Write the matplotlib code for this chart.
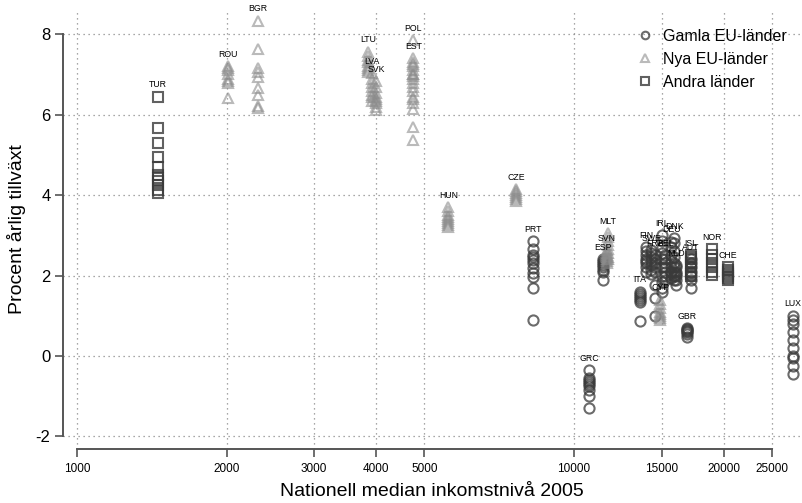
import matplotlib
matplotlib.use("Agg")
import matplotlib.pyplot as plt
import numpy as np

plt.rcParams['font.family'] = ['Liberation Sans', 'DejaVu Sans']

# Gamla EU-länder
old_codes = ['PRT', 'GRC', 'ESP', 'ITA', 'FIN', 'SWE', 'FRA', 'IRL', 'BEL',
             'DEU', 'DNK', 'NLD', 'AUT', 'GBR', 'LUX']
old_income = [8260, 10730, 11450, 13580, 13950, 14300, 14550, 15030, 15250,
              15700, 15900, 16050, 17190, 16880, 27550]
old_growth = [
    [2.86, 2.65, 2.51, 2.46, 2.39, 2.31, 2.18, 2.06, 1.97, 1.68, 0.90],
    [-0.35, -0.55, -0.6, -0.65, -0.7, -0.75, -0.85, -1.0, -1.3],
    [2.4, 2.35, 2.3, 2.25, 2.2, 2.15, 2.1, 1.89],
    [1.6, 1.55, 1.5, 1.45, 1.4, 1.35, 0.87],
    [2.7, 2.6, 2.5, 2.4, 2.35, 2.3, 2.2, 2.1],
    [2.63, 2.55, 2.45, 2.35, 2.25, 2.15, 2.05],
    [2.5, 2.4, 2.3, 2.2, 2.1, 1.77, 1.45, 1.0],
    [3.0, 2.85, 2.7, 2.55, 2.4, 2.2, 2.0, 1.85, 1.7, 1.6],
    [2.5, 2.4, 2.3, 2.2, 2.1, 2.0, 1.9],
    [2.84, 2.7, 2.5, 2.35, 2.2, 2.1, 2.05, 1.95],
    [2.93, 2.8, 2.6, 2.45, 2.3, 2.2, 2.1, 2.0, 1.9],
    [2.26, 2.2, 2.1, 2.05, 2.0, 1.9, 1.77],
    [2.4, 2.3, 2.2, 2.1, 2.0, 1.9, 1.68],
    [0.7, 0.68, 0.65, 0.62, 0.6, 0.55, 0.48],
    [1.0, 0.9, 0.8, 0.6, 0.4, 0.2, 0.0, -0.05, -0.25, -0.45],
]

# Nya EU-länder
new_codes = ['ROU', 'BGR', 'LTU', 'LVA', 'SVK', 'POL', 'EST', 'HUN', 'CZE',
             'MLT', 'SVN', 'CYP']
new_income = [2016, 2310, 3855, 3920, 4000, 4750, 4750, 5584, 7644,
              11700, 11650, 14900]
new_growth = [
    [7.2, 7.15, 7.1, 7.0, 6.9, 6.85, 6.8, 6.41],
    [8.34, 7.63, 7.16, 7.05, 6.93, 6.66, 6.49, 6.22, 6.16],
    [7.57, 7.45, 7.35, 7.3, 7.2, 7.15, 7.1, 7.05],
    [7.03, 6.9, 6.8, 6.7, 6.6, 6.5, 6.45, 6.35],
    [6.84, 6.7, 6.55, 6.45, 6.4, 6.35, 6.3, 6.2, 6.12],
    [7.86, 7.25, 7.0, 6.95, 6.7, 6.3, 6.14, 5.7, 5.37],
    [7.4, 7.3, 7.2, 7.1, 7.0, 6.9, 6.8, 6.6, 6.45, 6.4],
    [3.7, 3.6, 3.5, 3.45, 3.4, 3.35, 3.3, 3.25, 3.2],
    [4.15, 4.1, 4.05, 4.0, 3.95, 3.9, 3.85],
    [3.05, 2.95, 2.85, 2.75, 2.65, 2.55, 2.45, 2.4],
    [2.64, 2.55, 2.5, 2.45, 2.4, 2.35, 2.3],
    [1.4, 1.3, 1.2, 1.1, 1.05, 1.0, 0.95, 0.9],
]

# Andra länder
other_codes = ['TUR', 'ISL', 'NOR', 'CHE']
other_income = [1456, 17190, 18970, 20380]
other_growth = [
    [6.45, 5.66, 5.29, 4.94, 4.71, 4.5, 4.42, 4.34, 4.25, 4.13, 4.05],
    [2.5, 2.45, 2.4, 2.3, 2.2, 2.1, 2.05, 2.0],
    [2.65, 2.5, 2.4, 2.3, 2.2, 2.1, 2.01],
    [2.2, 2.15, 2.1, 2.05, 2.0, 1.95, 1.89],
]

xticks = [1000, 2000, 3000, 4000, 5000, 10000, 15000, 20000, 25000]
yticks = [-2, 0, 2, 4, 6, 8]

fig = plt.figure(figsize=(8.02, 5.03), dpi=100)
ax = fig.add_axes([0.0786, 0.1074, 0.919, 0.873])

groups = [
    ('Gamla EU-länder', old_codes, old_income, old_growth, 'o', '#3a3a3a', 0.75, 7.3),
    ('Nya EU-länder', new_codes, new_income, new_growth, '^', '#8c8c8c', 0.6, 7.8),
    ('Andra länder', other_codes, other_income, other_growth, 's', '#3a3a3a', 0.8, 6.8),
]

handles = []
for name, codes, income, growth, mk, col, al, ms in groups:
    xs = np.concatenate([[inc] * len(g) for inc, g in zip(income, growth)])
    ys = np.concatenate(growth)
    h, = ax.plot(xs, ys, linestyle='none', marker=mk, markersize=ms,
                 markerfacecolor='none', markeredgecolor=col,
                 markeredgewidth=1.5, alpha=al, label=name)
    handles.append(h)
    for code, inc, g in zip(codes, income, growth):
        ax.annotate(code, (inc, max(g)), xytext=(0, 8.5),
                    textcoords='offset points', ha='center', va='center',
                    fontsize=6.3, color='black')

ax.set_xscale('log')
ax.set_xlim(937, 28490)
ax.set_ylim(-2.313, 8.607)

ax.set_xticks(xticks)
ax.set_xticklabels([str(t) for t in xticks], fontsize=8.5)
ax.xaxis.set_minor_locator(matplotlib.ticker.NullLocator())
ax.set_yticks(yticks)
ax.set_yticklabels([str(t) for t in yticks], fontsize=12)

ax.grid(True, which='major', linestyle=(0, (1, 3)), color='#8a8a8a',
        linewidth=0.9)
ax.set_axisbelow(True)

for s in ['top', 'right']:
    ax.spines[s].set_visible(False)
ax.spines['left'].set_bounds(-2, 8)
ax.spines['bottom'].set_bounds(1000, 25000)
for s in ['left', 'bottom']:
    ax.spines[s].set_color('#555555')
    ax.spines[s].set_linewidth(1.4)
ax.tick_params(axis='both', direction='out', color='#555555', width=1.2,
               length=6)
ax.tick_params(axis='y', pad=3)
ax.tick_params(axis='x', pad=4)

ax.set_xlabel('Nationell median inkomstnivå 2005', fontsize=14, labelpad=6)
ax.set_ylabel('Procent årlig tillväxt', fontsize=14, labelpad=7)

ax.legend(handles=handles, loc='upper left', bbox_to_anchor=(0.757, 0.99),
          frameon=False, fontsize=11.5, markerscale=0.75, handletextpad=0.5,
          labelspacing=0.5, handlelength=1.2)

fig.savefig('out.png', dpi=100)
